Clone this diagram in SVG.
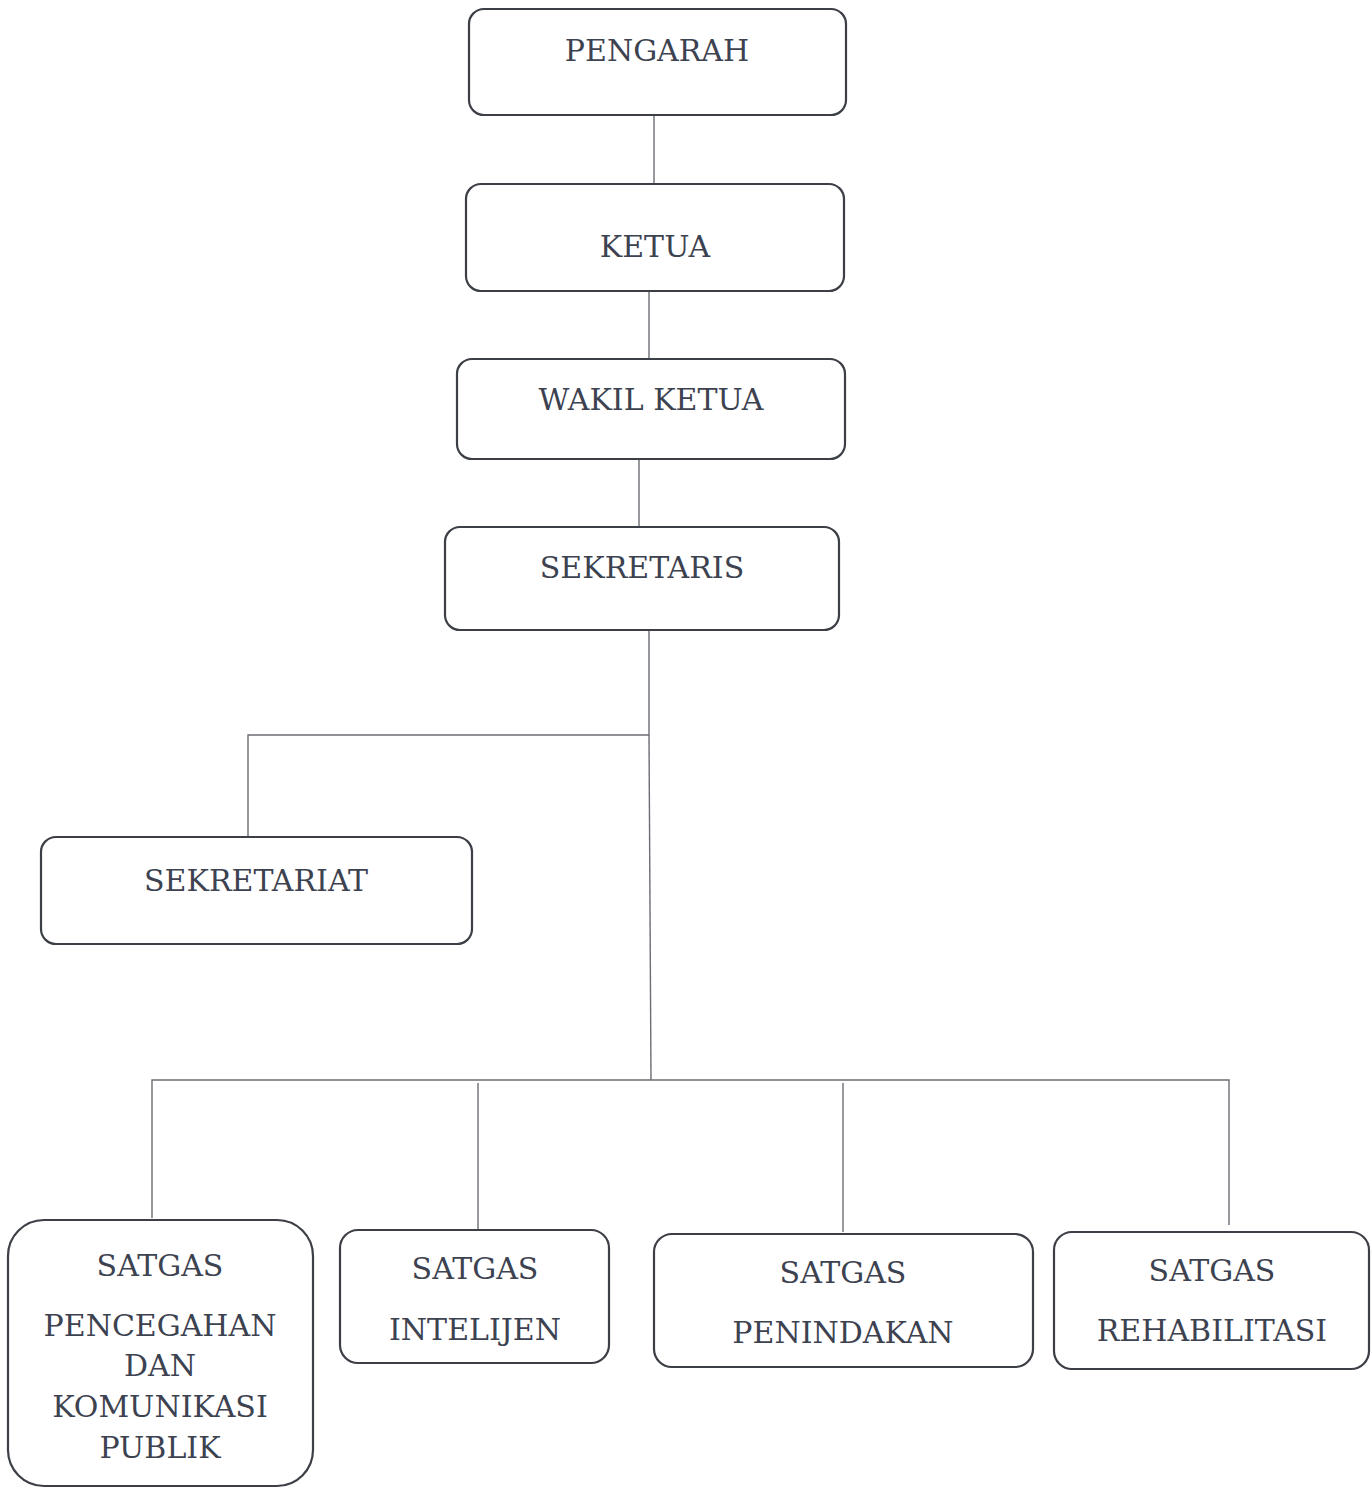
<svg xmlns="http://www.w3.org/2000/svg" width="1372" height="1488" viewBox="0 0 1372 1488">
<style>
.box{fill:#fff;stroke:#3c3f46;stroke-width:2.2}
.t{font-family:"DejaVu Serif","Liberation Serif",serif;font-size:30px;fill:#3d4250;text-anchor:middle}
.c{fill:none;stroke:#6b6e74;stroke-width:1.4}
</style>
<rect width="1372" height="1488" fill="#fff"/>
<g id="connectors">
<path class="c" d="M654 115V184"/>
<path class="c" d="M649 291V359"/>
<path class="c" d="M639 459V527"/>
<path class="c" d="M649 630V735H248V837"/>
<path class="c" d="M649 735L651 1080"/>
<path class="c" d="M152 1218V1080H1229V1225"/>
<path class="c" d="M478 1083V1230"/>
<path class="c" d="M843 1083V1232"/>
</g>
<g id="pengarah"><rect class="box" x="469" y="9" width="377" height="106" rx="15"/><text class="t" x="657" y="61">PENGARAH</text></g>
<g id="ketua"><rect class="box" x="466" y="184" width="378" height="107" rx="15"/><text class="t" x="655" y="257">KETUA</text></g>
<g id="wakil-ketua"><rect class="box" x="457" y="359" width="388" height="100" rx="15"/><text class="t" x="651" y="410">WAKIL KETUA</text></g>
<g id="sekretaris"><rect class="box" x="445" y="527" width="394" height="103" rx="15"/><text class="t" x="642" y="578">SEKRETARIS</text></g>
<g id="sekretariat"><rect class="box" x="41" y="837" width="431" height="107" rx="15"/><text class="t" x="256" y="891">SEKRETARIAT</text></g>
<g id="satgas-pencegahan"><rect class="box" x="8" y="1220" width="305" height="266" rx="36"/>
<text class="t" x="160" y="1276">SATGAS</text>
<text class="t" x="160" y="1336">PENCEGAHAN</text>
<text class="t" x="160" y="1376">DAN</text>
<text class="t" x="160" y="1417">KOMUNIKASI</text>
<text class="t" x="160" y="1458">PUBLIK</text></g>
<g id="satgas-intelijen"><rect class="box" x="340" y="1230" width="269" height="133" rx="18"/>
<text class="t" x="475" y="1279">SATGAS</text>
<text class="t" x="475" y="1340">INTELIJEN</text></g>
<g id="satgas-penindakan"><rect class="box" x="654" y="1234" width="379" height="133" rx="18"/>
<text class="t" x="843" y="1283">SATGAS</text>
<text class="t" x="843" y="1343">PENINDAKAN</text></g>
<g id="satgas-rehabilitasi"><rect class="box" x="1054" y="1232" width="315" height="137" rx="18"/>
<text class="t" x="1212" y="1281">SATGAS</text>
<text class="t" x="1212" y="1341">REHABILITASI</text></g>
</svg>
